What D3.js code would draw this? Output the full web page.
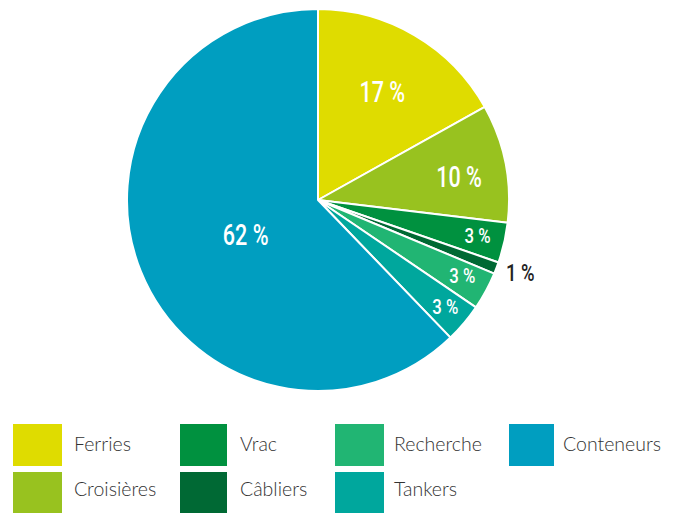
<!DOCTYPE html>
<html><head><meta charset="utf-8">
<script src="https://cdn.jsdelivr.net/npm/d3@7"></script>
<style>body{margin:0;background:#fff}</style>
</head><body>
<svg id="c" width="676" height="513"></svg>
<script>
const categories = ["Ferries","Croisières","Vrac","Câbliers","Recherche","Tankers","Conteneurs"];
const values = [16.9, 10.0, 3.4, 1.0, 3.2, 3.3, 62.2];
const labels = ["17 %","10 %","3 %","1 %","3 %","3 %","62 %"];
const colors = ["#dfdc00","#98c21f","#00913f","#006934","#21b573","#00a79d","#009ec0"];

const svg = d3.select("#c");
const cx = 318, cy = 200, R = 191;
const g = svg.append("g").attr("transform",`translate(${cx},${cy})`);
const pie = d3.pie().sort(null).value(d=>d)(values);
const arc = d3.arc().innerRadius(0).outerRadius(R);
g.selectAll("path").data(pie).join("path")
  .attr("d", arc).attr("fill",(d,i)=>colors[i])
  .attr("stroke","#fff").attr("stroke-width",2).attr("stroke-linejoin","round");

// label placement (polar, relative to slice middle)
const labelR = [126,143,163.5,215,163,166,80];
const labelAngOff = [0.005,0.033,-0.004,-0.018,-0.014,-0.004,-0.058];
const fontSize = [29.5,29.5,21,23,21,21,29.5];
const sx = [0.73,0.73,0.8,0.8,0.8,0.8,0.73];
g.selectAll("g.v").data(pie).join("g").attr("class","v")
  .each(function(d,i){
    const a = (d.startAngle+d.endAngle)/2 + labelAngOff[i];
    const r = labelR[i];
    const x = Math.sin(a)*r, y = -Math.cos(a)*r + fontSize[i]*0.711/2;
    d3.select(this).attr("transform",`translate(${x},${y}) scale(${sx[i]},1)`)
      .append("text")
      .attr("text-anchor","middle")
      .attr("font-family","Roboto, 'DejaVu Sans', sans-serif")
      .attr("font-weight",500)
      .attr("font-size",fontSize[i])
      .attr("fill", i===3 ? "#222" : "#fff")
      .text(labels[i]);
  });

// legend
const colX = [13,180,335,509];
const rowY = [424,472];
const leg = svg.append("g");
categories.forEach((c,i)=>{
  const col = i<6 ? Math.floor(i/2) : 3;
  const row = i<6 ? i%2 : 0;
  const x = colX[col], y = rowY[row];
  leg.append("rect").attr("x",x).attr("y",y).attr("width",i===6?45:(col===1?47:49)).attr("height",42).attr("fill",colors[i]);
  leg.append("text").attr("x",[74,240,394,563][col]).attr("y",row===0?451:496)
    .attr("font-family","Lato, 'Open Sans', sans-serif").attr("font-weight",300)
    .attr("font-size",19.5).attr("fill","#333").text(c);
});
</script>
</body></html>
